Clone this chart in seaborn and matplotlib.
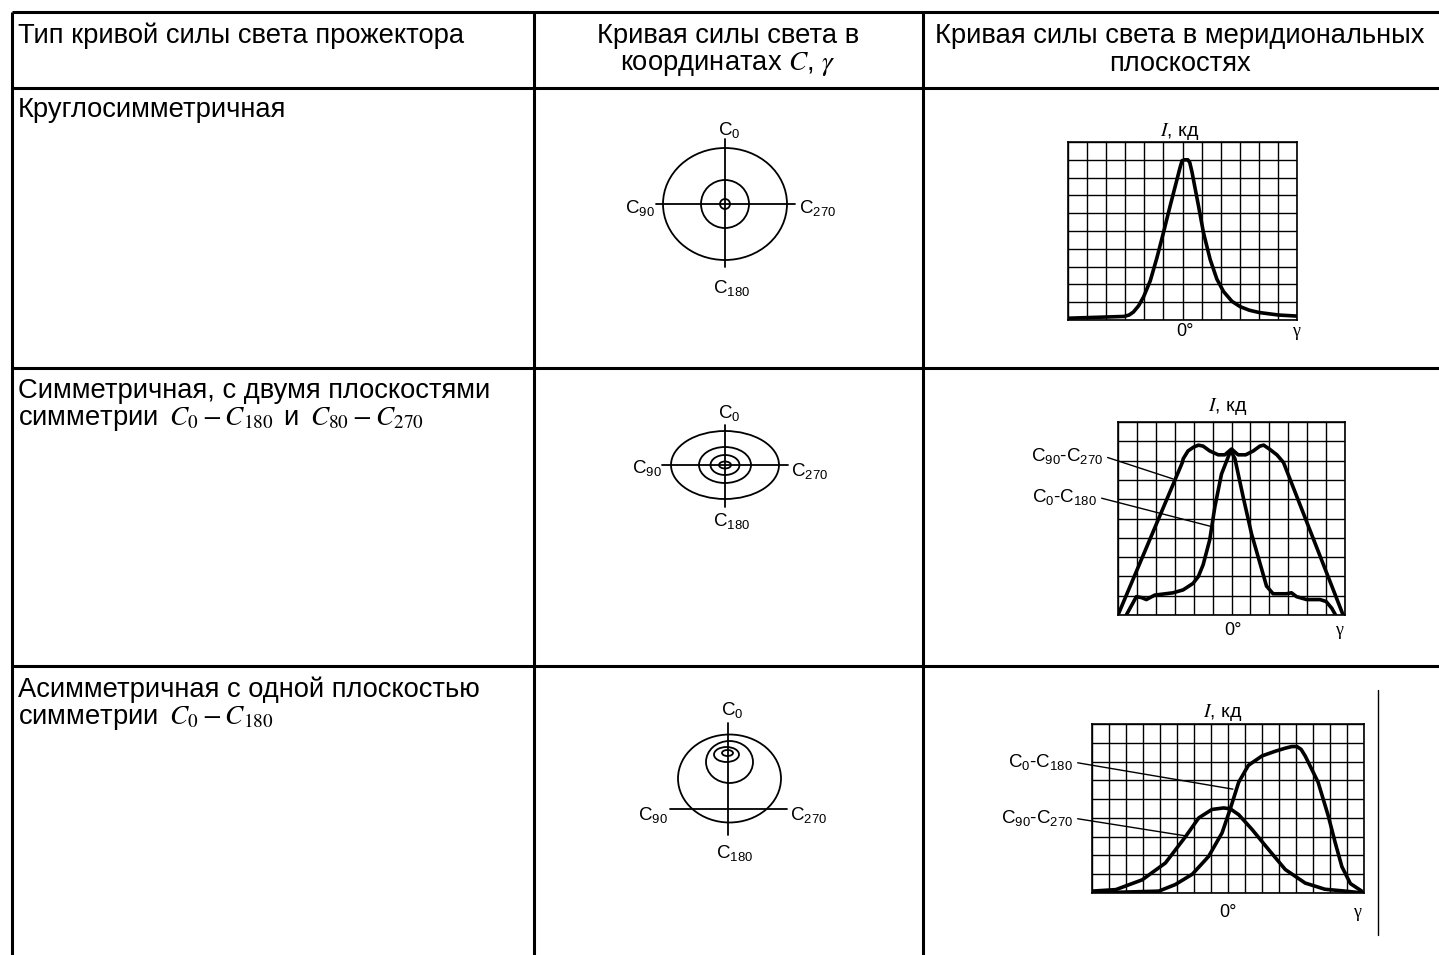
import numpy as np
import pandas as pd
import matplotlib
matplotlib.use('Agg')
import matplotlib.pyplot as plt
from matplotlib.patches import Ellipse
import seaborn as sns

W, H = 1439, 955

# ---- table text (one entry per printed line) ----
header_1 = ['Тип кривой силы света прожектора']
header_2 = ['Кривая силы света в', 'координатах $C$, $\\gamma$']
header_3 = ['Кривая силы света в меридиональных', 'плоскостях']
row_1 = ['Круглосимметричная']
row_2 = ['Симметричная, с двумя плоскостями',
         'симметрии $\\,C_0 - C_{180}\\,$ и $\\,C_{80} - C_{270}$']
row_3 = ['Асимметричная с одной плоскостью', 'симметрии $\\,C_0 - C_{180}$']

# ---- C, gamma diagrams: rings (offset x, offset y, rx, ry) in px ----
rings_1 = [(0, 0, 62, 56), (0, 0, 24, 24), (0, 0, 5, 5)]
rings_2 = [(0, 0, 54, 34), (0, 0, 26, 18), (0, 0, 14.5, 10), (0, 0, 6, 3.5)]
rings_3 = [(1.5, 30.5, 51.5, 44), (1.5, 47, 23.5, 21), (-1.5, 54.5, 12.5, 7.5), (-0.5, 56, 5.5, 3)]

# ---- meridional curves (gamma in grid cells, I in grid cells) ----
r1_g = [-6, -3.06, -2.8, -2.57, -2.3, -2.04, -1.69, -1.34, -1.0, -0.65, -0.3, -0.12, -0.02,
        0.1, 0.28, 0.38, 0.5, 0.66, 0.84, 1.1, 1.45, 1.8, 2.15, 2.59, 3.02, 3.5, 4.02, 5.03, 6.0]
r1_i = [0.1, 0.2, 0.28, 0.45, 0.8, 1.3, 2.2, 3.5, 4.9, 6.4, 7.85, 8.6, 8.95,
        9.0, 9.0, 8.85, 8.3, 7.4, 6.4, 4.9, 3.4, 2.3, 1.6, 1.05, 0.75, 0.55, 0.42, 0.28, 0.22]

r2_wide_g = [-6, -2.6, -2.55, -2.3, -2.0, -1.75, -1.5, -1.15, -0.7, -0.35, 0, 0.35, 0.75,
             1.15, 1.5, 1.7, 2.0, 2.4, 2.75, 5.9]
r2_wide_i = [0, 7.9, 8.1, 8.5, 8.7, 8.8, 8.75, 8.5, 8.3, 8.3, 8.6, 8.3, 8.3,
             8.5, 8.75, 8.8, 8.6, 8.3, 7.9, 0]
r2_narrow_g = [-5.56, -5.03, -4.75, -4.5, -4.06, -3.09, -2.56, -2.03, -1.75, -1.5, -1.15, -0.88, -0.53,
               -0.09, 0, 0.18, 0.62, 1.06, 1.5, 1.85, 2.2, 2.9, 3.17, 3.44, 3.97, 4.68, 5.0, 5.3, 5.5]
r2_narrow_i = [0, 0.95, 0.9, 0.8, 1.03, 1.15, 1.3, 1.64, 2.0, 2.6, 3.9, 5.6, 7.3,
               8.4, 8.45, 8.1, 6.1, 4.2, 2.7, 1.5, 1.1, 1.1, 1.15, 0.95, 0.8, 0.8, 0.7, 0.35, 0]

r3_c0_g = [-8, -4.07, -3.1, -2.1, -1.14, -0.35, 0.14, 0.63, 1.2, 2.0, 2.78, 3.4, 3.76, 4.05,
           4.3, 4.54, 5.3, 5.9, 6.3, 6.7, 7.2, 7.87, 7.93]
r3_c0_i = [0, 0.1, 0.45, 1.0, 1.95, 3.2, 4.5, 5.9, 6.8, 7.3, 7.55, 7.72, 7.8, 7.8,
           7.65, 7.3, 5.9, 4.1, 2.7, 1.4, 0.5, 0.1, 0]
r3_c90_g = [-8, -6.6, -5.05, -3.68, -2.5, -1.72, -0.94, -0.25, 0.14, 0.63, 1.4, 2.4, 3.37,
            4.54, 5.7, 6.9, 7.93]
r3_c90_i = [0.1, 0.18, 0.7, 1.6, 3.0, 4.0, 4.45, 4.53, 4.48, 4.17, 3.4, 2.3, 1.25,
            0.53, 0.2, 0.1, 0]

sns.set_style('white')
plt.rcParams['font.family'] = ['Liberation Sans', 'DejaVu Sans']
plt.rcParams['text.color'] = 'black'
plt.rcParams['mathtext.fontset'] = 'custom'
plt.rcParams['mathtext.rm'] = 'Liberation Sans'
plt.rcParams['mathtext.it'] = 'Liberation Sans:italic'
plt.rcParams['mathtext.bf'] = 'Liberation Sans:bold'

fig = plt.figure(figsize=(W / 100, H / 100), dpi=100)


def rect(x0, y0, x1, y1):
    return [x0 / W, 1 - y1 / H, (x1 - x0) / W, (y1 - y0) / H]


# table frame and text
tab = fig.add_axes([0, 0, 1, 1])
tab.set_xlim(0, W)
tab.set_ylim(H, 0)
tab.axis('off')
for y in [12, 88, 368, 666]:
    tab.plot([12, W], [y, y], color='black', lw=2.2, solid_capstyle='butt')
for x in [12, 534, 923]:
    tab.plot([x, x], [12, H], color='black', lw=2.2, solid_capstyle='butt')
tab.plot([1378, 1378], [690, 935], color='black', lw=1.0)

fs = 19.7
line_step = 28


def put_lines(lines, x, y, ha):
    for k, s in enumerate(lines):
        tab.text(x, y + k * line_step, s, fontsize=fs, va='center', ha=ha,
                 math_fontfamily='stix')


put_lines(header_1, 18, 36, 'left')
put_lines(header_2, 728, 36, 'center')
put_lines(header_3, 1180, 36, 'center')
put_lines(row_1, 18, 110, 'left')
put_lines(row_2, 18, 391, 'left')
put_lines(row_3, 18, 690, 'left')

lab_fs = 13.5


def c_diagram(cx, cy, rings, cross_h, cross_v, labels):
    ax = fig.add_axes(rect(cx - 110, cy - 110, cx + 110, cy + 110))
    ax.set_xlim(-110, 110)
    ax.set_ylim(-110, 110)
    ax.axis('off')
    for ox, oy, rx, ry in rings:
        ax.add_patch(Ellipse((ox, oy), 2 * rx, 2 * ry, fill=False, lw=1.3, color='black'))
    ax.plot(cross_h[:2], [cross_h[2]] * 2, color='black', lw=1.3)
    ax.plot([0, 0], cross_v, color='black', lw=1.3)
    for txt, x, y, ha in labels:
        ax.text(x, y, txt, fontsize=lab_fs, ha=ha, va='center')


c_diagram(725, 204, rings_1, (-69, 70, 0), (-63, 65),
          [('C$_0$', 4, 74, 'center'), ('C$_{90}$', -70, -4, 'right'),
           ('C$_{270}$', 74, -4, 'left'), ('C$_{180}$', 7, -84, 'center')])
c_diagram(725, 465, rings_2, (-63, 63, 0), (-42, 40),
          [('C$_0$', 4, 52, 'center'), ('C$_{90}$', -63, -3, 'right'),
           ('C$_{270}$', 66, -6, 'left'), ('C$_{180}$', 7, -56, 'center')])
c_diagram(728, 809, rings_3, (-58, 59, 0), (-26, 86),
          [('C$_0$', 4, 99, 'center'), ('C$_{90}$', -60, -6, 'right'),
           ('C$_{270}$', 62, -6, 'left'), ('C$_{180}$', 7, -44, 'center')])


def grid_axes(x0, y0, x1, y1, ncol, nrow):
    ax = fig.add_axes(rect(x0, y0, x1, y1))
    half = ncol // 2
    ax.set_xlim(-half, half)
    ax.set_ylim(0, nrow)
    ax.set_xticks(np.arange(-half, half + 1))
    ax.set_yticks(np.arange(0, nrow + 1))
    ax.grid(True, color='black', lw=1.0)
    ax.tick_params(length=0, labelbottom=False, labelleft=False)
    for s in ax.spines.values():
        s.set_color('black')
        s.set_linewidth(1.2)
    return ax


def curve(ax, g, i):
    df = pd.DataFrame({'g': g, 'i': i})
    sns.lineplot(data=df, x='g', y='i', ax=ax, color='black', lw=2.6,
                 sort=False, estimator=None)
    ax.set_xlabel('')
    ax.set_ylabel('')


def axis_labels(ax_center_x, top_y, zero_x, gamma_x, bottom_y):
    tab.text(ax_center_x, top_y, '$I$, кд', fontsize=14, ha='center', va='center',
             math_fontfamily='stix')
    tab.text(zero_x, bottom_y, '0°', fontsize=13, ha='center', va='center')
    tab.text(gamma_x, bottom_y, 'γ', fontsize=13, ha='center', va='center',
             family='Liberation Serif')


ax1 = grid_axes(1068, 142, 1297, 320, 12, 10)
curve(ax1, r1_g, r1_i)
axis_labels(1180, 131, 1185, 1296, 331)

ax2 = grid_axes(1118, 422, 1345, 615, 12, 10)
curve(ax2, r2_wide_g, r2_wide_i)
curve(ax2, r2_narrow_g, r2_narrow_i)
axis_labels(1228, 406, 1233, 1339, 630)

ax3 = grid_axes(1092, 724, 1364, 893, 16, 9)
curve(ax3, r3_c0_g, r3_c0_i)
curve(ax3, r3_c90_g, r3_c90_i)
axis_labels(1223, 712, 1228, 1357, 912)


def leader(ax, txt, tx, ty, gx, iy):
    ax.annotate(txt, xy=(gx, iy), xycoords='data',
                xytext=(tx, H - ty), textcoords='figure pixels',
                fontsize=lab_fs, ha='right', va='center',
                arrowprops=dict(arrowstyle='-', lw=1.0, color='black',
                                shrinkA=1, shrinkB=0, relpos=(1, 0.5)),
                annotation_clip=False)


leader(ax2, 'C$_{90}$-C$_{270}$', 1103, 456, -3.09, 7.05)
leader(ax2, 'C$_0$-C$_{180}$', 1097, 497, -1.13, 4.6)
leader(ax3, 'C$_0$-C$_{180}$', 1073, 762, 0.29, 5.53)
leader(ax3, 'C$_{90}$-C$_{270}$', 1073, 818, -2.41, 3.03)

fig.savefig('out.png', dpi=100, facecolor='white')
